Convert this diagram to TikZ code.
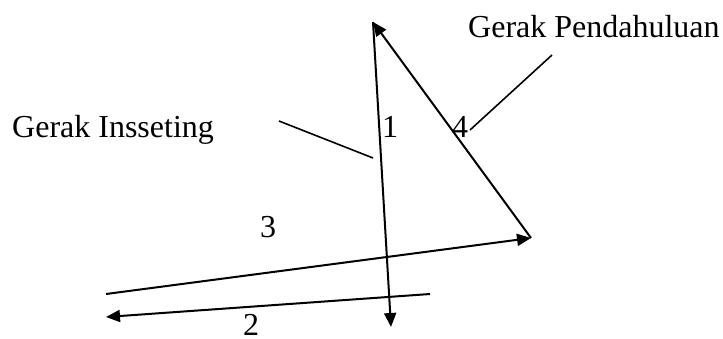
\documentclass[tikz,border=0pt]{standalone}
\usepackage{fontspec}
\setmainfont{Liberation Serif}
\usetikzlibrary{arrows.meta}
\tikzset{
  lbl/.style={inner sep=0pt, anchor=base west, font=\fontsize{32}{38}\selectfont},
  vec/.style={line width=2pt, -{Triangle[length=14pt,width=12pt]}},
  plain/.style={line width=1.6pt},
}
\begin{document}
\begin{tikzpicture}[x=1pt,y=-1pt]
\useasboundingbox (0,0) rectangle (723,338);
\coordinate (top) at (373,22);
\coordinate (right) at (531,238);
\coordinate (bot) at (391,327);
\coordinate (s3) at (106,294);
\coordinate (s2) at (430,294);
\coordinate (e2) at (106,317);
\coordinate (i1) at (279,121);
\coordinate (i2) at (373,158);
\coordinate (p1) at (470,130);
\coordinate (p2) at (552,55);
\draw[vec] (top) -- (bot);
\draw[vec] (right) -- (top);
\draw[vec] (s3) -- (right);
\draw[vec] (s2) -- (e2);
\draw[plain] (i1) -- (i2);
\draw[plain] (p1) -- (p2);
\node[lbl] (gi) at (12,137) {Gerak Insseting};
\node[lbl] (gp) at (468,37) {Gerak Pendahuluan};
\node[lbl] (n1) at (382,137) {1};
\node[lbl] (n4) at (452,137) {4};
\node[lbl] (n3) at (260,237) {3};
\node[lbl] (n2) at (243,335) {2};
\end{tikzpicture}
\end{document}
